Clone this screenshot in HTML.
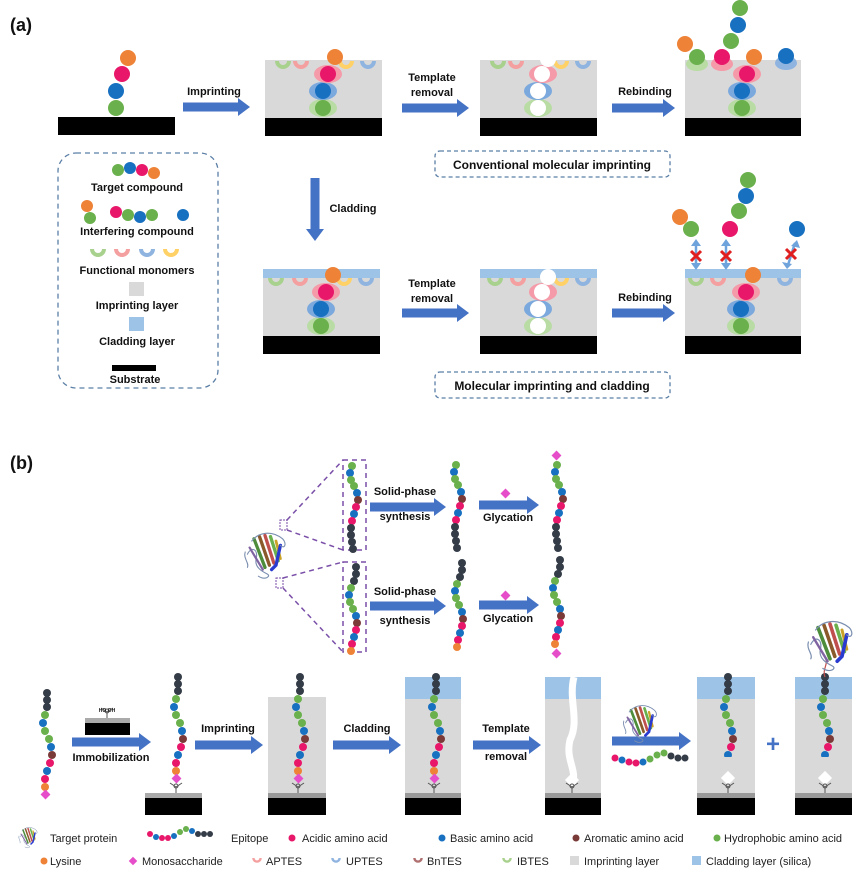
<!DOCTYPE html>
<html><head><meta charset="utf-8"><style>
body{margin:0;background:#fff}
svg{display:block}
text{font-family:"Liberation Sans",sans-serif;font-weight:bold;fill:#111}
.ar{stroke:#4472c4;stroke-width:9;fill:none}
.g{fill:#6ab04c}.b{fill:#1870c0}.p{fill:#e8176a}.o{fill:#ee8236}.d{fill:#343c48}.br{fill:#7a3b38}.m{fill:#e64dc8}
.lg{font-size:11px;font-weight:normal;fill:#222}
</style></head><body>
<svg width="865" height="878" viewBox="0 0 865 878" xmlns="http://www.w3.org/2000/svg">
<defs>
<g id="hd"><path d="M0,-9 L12,0 L0,9z" fill="#4472c4"/></g>
<g id="cg"><path d="M-8,0 A8,8 0 0 0 8,0 L4,0 A4,4 0 0 1 -4,0z" fill="#a9d18e"/></g>
<g id="cp"><path d="M-8,0 A8,8 0 0 0 8,0 L4,0 A4,4 0 0 1 -4,0z" fill="#f4a0a0"/></g>
<g id="cb"><path d="M-8,0 A8,8 0 0 0 8,0 L4,0 A4,4 0 0 1 -4,0z" fill="#8fb4e0"/></g>
<g id="cy"><path d="M-8,0 A8,8 0 0 0 8,0 L4,0 A4,4 0 0 1 -4,0z" fill="#ffd166"/></g>
<g id="stack">
<ellipse cx="0" cy="34" rx="14" ry="9" fill="#b8dca4"/><ellipse cx="0" cy="17" rx="14" ry="9" fill="#7ca9dd"/><ellipse cx="5" cy="0" rx="14" ry="9" fill="#f59aa8"/>
<circle cx="0" cy="34" r="8" class="g"/><circle cx="0" cy="17" r="8" class="b"/><circle cx="5" cy="0" r="8" class="p"/><circle cx="12" cy="-17" r="8" class="o"/>
</g>
<g id="stackw">
<ellipse cx="0" cy="34" rx="14" ry="9" fill="#b8dca4"/><ellipse cx="0" cy="17" rx="14" ry="9" fill="#7ca9dd"/><ellipse cx="5" cy="0" rx="14" ry="9" fill="#f59aa8"/>
<circle cx="0" cy="34" r="8" fill="#fff"/><circle cx="0" cy="17" r="8" fill="#fff"/><circle cx="4" cy="0" r="8" fill="#fff"/><circle cx="10" cy="-15" r="8" fill="#fff"/>
</g>
<g id="ch">
<circle cx="0" cy="0" r="4" class="d"/><circle cx="0" cy="7" r="4" class="d"/><circle cx="0" cy="14" r="4" class="d"/>
<circle cx="-2" cy="22" r="4" class="g"/><circle cx="-4" cy="30" r="4" class="b"/><circle cx="-2" cy="38" r="4" class="g"/><circle cx="2" cy="46" r="4" class="g"/>
<circle cx="4" cy="54" r="4" class="b"/><circle cx="5" cy="62" r="4" class="br"/><circle cx="3" cy="70" r="4" class="p"/><circle cx="0" cy="78" r="4" class="b"/>
<circle cx="-2" cy="86" r="4" class="p"/><circle cx="-2" cy="94" r="4" class="o"/>
</g>
<g id="c1">
<circle cx="0" cy="0" r="4" class="g"/><circle cx="-2" cy="7" r="4" class="b"/><circle cx="-1" cy="14" r="4" class="g"/><circle cx="2" cy="20" r="4" class="g"/>
<circle cx="5" cy="27" r="4" class="b"/><circle cx="6" cy="34" r="4" class="br"/><circle cx="4" cy="41" r="4" class="p"/><circle cx="2" cy="48" r="4" class="b"/>
<circle cx="0" cy="55" r="4" class="p"/><circle cx="-1" cy="62" r="4" class="d"/><circle cx="-1" cy="69" r="4" class="d"/><circle cx="0" cy="76" r="4" class="d"/><circle cx="1" cy="83" r="4" class="d"/>
</g>
<g id="c2">
<circle cx="0" cy="0" r="4" class="d"/><circle cx="0" cy="7" r="4" class="d"/><circle cx="-2" cy="14" r="4" class="d"/><circle cx="-5" cy="21" r="4" class="g"/>
<circle cx="-7" cy="28" r="4" class="b"/><circle cx="-6" cy="35" r="4" class="g"/><circle cx="-3" cy="42" r="4" class="g"/><circle cx="0" cy="49" r="4" class="b"/>
<circle cx="1" cy="56" r="4" class="br"/><circle cx="0" cy="63" r="4" class="p"/><circle cx="-2" cy="70" r="4" class="b"/><circle cx="-4" cy="77" r="4" class="p"/><circle cx="-5" cy="84" r="4" class="o"/>
</g>
<!-- compact protein, approx 40x40 box -->
<g id="prot" fill="none" stroke-linecap="round">
<path d="M4,22 C8,14 14,18 12,26 C10,34 18,38 22,40 C26,42 20,46 14,42" stroke="#7b8fb0" stroke-width="1"/>
<path d="M2,20 C0,26 6,30 4,34" stroke="#7b8fb0" stroke-width="1"/>
<path d="M10,8 L20,34" stroke="#4d8c3a" stroke-width="3"/>
<path d="M15,6 L24,32" stroke="#8a5a2b" stroke-width="3"/>
<path d="M20,5 L28,30" stroke="#c0504d" stroke-width="3"/>
<path d="M25,6 L32,28" stroke="#6ab04c" stroke-width="3"/>
<path d="M30,10 L34,26" stroke="#c9a227" stroke-width="2.5"/>
<path d="M34,14 L30,32 L26,36" stroke="#2a3bd0" stroke-width="3"/>
<path d="M8,10 C14,2 26,0 36,8 C40,12 38,18 34,14" stroke="#7b8fb0" stroke-width="1"/>
<path d="M6,16 L18,36" stroke="#8064a2" stroke-width="2"/>
</g>
<g id="bor" stroke="#555" stroke-width="1" fill="none"><path d="M0,0 L0,-6 M0,-6 L-6,-10 M0,-6 L6,-10"/><circle cx="0" cy="-7" r="2"/></g>
</defs>

<!-- ============ (a) ============ -->
<text x="10" y="31" font-size="18">(a)</text>
<rect x="58" y="117" width="117" height="18" fill="#000"/>
<circle cx="116" cy="108" r="8" class="g"/><circle cx="116" cy="91" r="8" class="b"/><circle cx="122" cy="74" r="8" class="p"/><circle cx="128" cy="58" r="8" class="o"/>
<line x1="183" y1="107" x2="239" y2="107" class="ar"/><use href="#hd" x="238" y="107"/>
<text x="214" y="95" font-size="11" text-anchor="middle">Imprinting</text>

<rect x="265" y="60" width="117" height="58" fill="#d9d9d9"/><rect x="265" y="118" width="117" height="18" fill="#000"/>
<use href="#cg" x="283" y="61"/><use href="#cp" x="301" y="61"/><use href="#cb" x="368" y="61"/><use href="#cy" x="346" y="61"/>
<use href="#stack" x="323" y="74"/>
<line x1="402" y1="108" x2="458" y2="108" class="ar"/><use href="#hd" x="457" y="108"/>
<text x="432" y="81" font-size="11" text-anchor="middle">Template</text><text x="432" y="96" font-size="11" text-anchor="middle">removal</text>

<rect x="480" y="60" width="117" height="58" fill="#d9d9d9"/><rect x="480" y="118" width="117" height="18" fill="#000"/>
<use href="#cg" x="498" y="61"/><use href="#cp" x="516" y="61"/><use href="#cb" x="583" y="61"/><use href="#cy" x="561" y="61"/>
<use href="#stackw" x="538" y="74"/>
<line x1="612" y1="108" x2="664" y2="108" class="ar"/><use href="#hd" x="663" y="108"/>
<text x="645" y="95" font-size="11" text-anchor="middle">Rebinding</text>

<rect x="685" y="60" width="116" height="58" fill="#d9d9d9"/><rect x="685" y="118" width="116" height="18" fill="#000"/>
<ellipse cx="697" cy="64" rx="11" ry="7" fill="#b8dca4"/><ellipse cx="722" cy="64" rx="11" ry="7" fill="#f59aa8"/><ellipse cx="786" cy="63" rx="11" ry="7" fill="#8fb4e0"/>
<use href="#stack" x="742" y="74"/>
<circle cx="685" cy="44" r="8" class="o"/><circle cx="697" cy="57" r="8" class="g"/><circle cx="722" cy="57" r="8" class="p"/><circle cx="731" cy="41" r="8" class="g"/><circle cx="738" cy="25" r="8" class="b"/><circle cx="740" cy="8" r="8" class="g"/><circle cx="786" cy="56" r="8" class="b"/>
<rect x="435" y="151" width="235" height="26" rx="5" fill="none" stroke="#5b7fa6" stroke-width="1.3" stroke-dasharray="4,3"/>
<text x="552" y="169" font-size="12" text-anchor="middle">Conventional molecular imprinting</text>

<!-- legend -->
<rect x="58" y="153" width="160" height="235" rx="18" fill="none" stroke="#5b7fa6" stroke-width="1.3" stroke-dasharray="5,4"/>
<circle cx="118" cy="170" r="6" class="g"/><circle cx="130" cy="168" r="6" class="b"/><circle cx="142" cy="170" r="6" class="p"/><circle cx="154" cy="173" r="6" class="o"/>
<text x="137" y="191" font-size="11" text-anchor="middle">Target compound</text>
<circle cx="87" cy="206" r="6" class="o"/><circle cx="90" cy="218" r="6" class="g"/><circle cx="116" cy="212" r="6" class="p"/><circle cx="128" cy="215" r="6" class="g"/><circle cx="140" cy="217" r="6" class="b"/><circle cx="152" cy="215" r="6" class="g"/><circle cx="183" cy="215" r="6" class="b"/>
<text x="137" y="235" font-size="11" text-anchor="middle">Interfering compound</text>
<use href="#cg" x="98" y="249"/><use href="#cp" x="122" y="249"/><use href="#cb" x="147" y="249"/><use href="#cy" x="171" y="249"/>
<text x="137" y="274" font-size="11" text-anchor="middle">Functional monomers</text>
<rect x="129" y="282" width="15" height="14" fill="#d9d9d9"/>
<text x="137" y="309" font-size="11" text-anchor="middle">Imprinting layer</text>
<rect x="129" y="317" width="15" height="14" fill="#9dc3e6"/>
<text x="137" y="345" font-size="11" text-anchor="middle">Cladding layer</text>
<rect x="112" y="365" width="44" height="6" fill="#000"/>
<text x="135" y="383" font-size="11" text-anchor="middle">Substrate</text>

<line x1="315" y1="178" x2="315" y2="230" class="ar"/><use href="#hd" x="315" y="229" transform="rotate(90 315 229)"/>
<text x="353" y="212" font-size="11" text-anchor="middle">Cladding</text>

<!-- row 2 -->
<rect x="263" y="277" width="117" height="59" fill="#d9d9d9"/><rect x="263" y="269" width="117" height="9" fill="#9dc3e6"/><rect x="263" y="336" width="117" height="18" fill="#000"/>
<use href="#cg" x="276" y="278"/><use href="#cp" x="300" y="278"/><use href="#cb" x="366" y="278"/><use href="#cy" x="344" y="278"/>
<use href="#stack" x="321" y="292"/>
<line x1="402" y1="313" x2="458" y2="313" class="ar"/><use href="#hd" x="457" y="313"/>
<text x="432" y="287" font-size="11" text-anchor="middle">Template</text><text x="432" y="302" font-size="11" text-anchor="middle">removal</text>

<rect x="480" y="277" width="117" height="59" fill="#d9d9d9"/><rect x="480" y="269" width="117" height="9" fill="#9dc3e6"/><rect x="480" y="336" width="117" height="18" fill="#000"/>
<use href="#cg" x="495" y="278"/><use href="#cp" x="518" y="278"/><use href="#cb" x="583" y="278"/><use href="#cy" x="561" y="278"/>
<use href="#stackw" x="538" y="292"/>
<line x1="612" y1="313" x2="664" y2="313" class="ar"/><use href="#hd" x="663" y="313"/>
<text x="645" y="301" font-size="11" text-anchor="middle">Rebinding</text>

<rect x="685" y="277" width="116" height="59" fill="#d9d9d9"/><rect x="685" y="269" width="116" height="9" fill="#9dc3e6"/><rect x="685" y="336" width="116" height="18" fill="#000"/>
<use href="#cg" x="696" y="278"/><use href="#cp" x="718" y="278"/><use href="#cb" x="785" y="278"/>
<use href="#stack" x="741" y="292"/>
<circle cx="680" cy="217" r="8" class="o"/><circle cx="691" cy="229" r="8" class="g"/><circle cx="730" cy="229" r="8" class="p"/><circle cx="739" cy="211" r="8" class="g"/><circle cx="746" cy="196" r="8" class="b"/><circle cx="748" cy="180" r="8" class="g"/><circle cx="797" cy="229" r="8" class="b"/>
<g stroke="#6fa3dc" stroke-width="2.5" fill="#6fa3dc">
<line x1="696" y1="244" x2="696" y2="265"/><line x1="726" y1="244" x2="726" y2="265"/><line x1="795" y1="243" x2="788" y2="265"/>
</g>
<g fill="#6fa3dc"><path d="M691,246 L696,239 L701,246z M691,263 L696,270 L701,263z M721,246 L726,239 L731,246z M721,263 L726,270 L731,263z M791,246 L797,240 L800,248z M782,262 L787,269 L792,264z"/></g>
<g stroke="#e02020" stroke-width="3"><path d="M691,251 L701,261 M701,251 L691,261 M721,251 L731,261 M731,251 L721,261 M786,249 L796,259 M796,249 L786,259"/></g>
<rect x="435" y="372" width="235" height="26" rx="5" fill="none" stroke="#5b7fa6" stroke-width="1.3" stroke-dasharray="4,3"/>
<text x="552" y="390" font-size="12" text-anchor="middle">Molecular imprinting and cladding</text>

<!-- ============ (b) ============ -->
<text x="10" y="469" font-size="18">(b)</text>
<use href="#prot" transform="translate(243 530) scale(1.1)"/>
<rect x="280" y="520" width="7" height="10" fill="none" stroke="#7a4fa8" stroke-width="1" stroke-dasharray="2,1"/>
<rect x="276" y="578" width="7" height="10" fill="none" stroke="#7a4fa8" stroke-width="1" stroke-dasharray="2,1"/>
<g stroke="#7a4fa8" stroke-width="1.5" stroke-dasharray="5,4" fill="none">
<rect x="343" y="460" width="23" height="90"/><rect x="343" y="562" width="23" height="90"/>
<line x1="287" y1="520" x2="343" y2="460"/><line x1="287" y1="530" x2="343" y2="550"/>
<line x1="283" y1="578" x2="343" y2="562"/><line x1="283" y1="588" x2="343" y2="652"/>
</g>
<use href="#c1" x="352" y="466"/>
<use href="#c2" x="356" y="567"/>
<line x1="370" y1="507" x2="435" y2="507" class="ar"/><use href="#hd" x="434" y="507"/>
<text x="405" y="495" font-size="11" text-anchor="middle">Solid-phase</text><text x="405" y="520" font-size="11" text-anchor="middle">synthesis</text>
<use href="#c1" x="456" y="465"/>
<line x1="479" y1="505" x2="528" y2="505" class="ar"/><use href="#hd" x="527" y="505"/>
<rect x="502" y="490" width="7" height="7" class="m" transform="rotate(45 505.5 493.5)"/>
<text x="508" y="521" font-size="11" text-anchor="middle">Glycation</text>
<rect x="553" y="452" width="7" height="7" class="m" transform="rotate(45 556.5 455.5)"/>
<use href="#c1" x="557" y="465"/>
<line x1="370" y1="606" x2="435" y2="606" class="ar"/><use href="#hd" x="434" y="606"/>
<text x="405" y="595" font-size="11" text-anchor="middle">Solid-phase</text><text x="405" y="624" font-size="11" text-anchor="middle">synthesis</text>
<use href="#c2" x="462" y="563"/>
<line x1="479" y1="605" x2="528" y2="605" class="ar"/><use href="#hd" x="527" y="605"/>
<rect x="502" y="592" width="7" height="7" class="m" transform="rotate(45 505.5 595.5)"/>
<text x="508" y="622" font-size="11" text-anchor="middle">Glycation</text>
<use href="#c2" x="560" y="560"/>
<rect x="553" y="650" width="7" height="7" class="m" transform="rotate(45 556.5 653.5)"/>

<!-- bottom row -->
<use href="#ch" x="47" y="693"/><rect x="42" y="791" width="7" height="7" class="m" transform="rotate(45 45.5 794.5)"/>
<rect x="85" y="718" width="45" height="5" fill="#aaa"/><rect x="85" y="723" width="45" height="12" fill="#000"/>
<use href="#bor" x="107" y="718"/><text x="107" y="712" font-size="5" text-anchor="middle" font-weight="normal">HO  OH</text>
<line x1="72" y1="742" x2="140" y2="742" class="ar"/><use href="#hd" x="139" y="742"/>
<text x="111" y="761" font-size="11" text-anchor="middle">Immobilization</text>

<use href="#ch" x="178" y="677"/><rect x="173" y="775" width="7" height="7" class="m" transform="rotate(45 176.5 778.5)"/>
<use href="#bor" x="176" y="793"/>
<rect x="145" y="793" width="57" height="5" fill="#aaa"/><rect x="145" y="798" width="57" height="17" fill="#000"/>
<line x1="195" y1="745" x2="252" y2="745" class="ar"/><use href="#hd" x="251" y="745"/>
<text x="228" y="732" font-size="11" text-anchor="middle">Imprinting</text>

<rect x="268" y="697" width="58" height="96" fill="#d9d9d9"/><rect x="268" y="793" width="58" height="5" fill="#999"/><rect x="268" y="798" width="58" height="17" fill="#000"/>
<use href="#ch" x="300" y="677"/><rect x="295" y="775" width="7" height="7" class="m" transform="rotate(45 298.5 778.5)"/><use href="#bor" x="298" y="793"/>
<line x1="333" y1="745" x2="390" y2="745" class="ar"/><use href="#hd" x="389" y="745"/>
<text x="367" y="732" font-size="11" text-anchor="middle">Cladding</text>

<rect x="405" y="697" width="56" height="96" fill="#d9d9d9"/><rect x="405" y="677" width="56" height="22" fill="#9dc3e6"/><rect x="405" y="793" width="56" height="5" fill="#999"/><rect x="405" y="798" width="56" height="17" fill="#000"/>
<use href="#ch" x="436" y="677"/><rect x="431" y="775" width="7" height="7" class="m" transform="rotate(45 434.5 778.5)"/><use href="#bor" x="434" y="793"/>
<line x1="473" y1="745" x2="530" y2="745" class="ar"/><use href="#hd" x="529" y="745"/>
<text x="506" y="732" font-size="11" text-anchor="middle">Template</text><text x="506" y="760" font-size="11" text-anchor="middle">removal</text>

<rect x="545" y="697" width="56" height="96" fill="#d9d9d9"/><rect x="545" y="677" width="56" height="22" fill="#9dc3e6"/><rect x="545" y="793" width="56" height="5" fill="#999"/><rect x="545" y="798" width="56" height="17" fill="#000"/>
<path d="M574,677 C568,700 580,720 570,740 C565,760 578,770 572,785" stroke="#fff" stroke-width="7" fill="none"/>
<rect x="567" y="775" width="10" height="10" fill="#fff" transform="rotate(45 572 780)"/>
<use href="#bor" x="572" y="793"/>
<line x1="612" y1="741" x2="680" y2="741" class="ar"/><use href="#hd" x="679" y="741"/>
<use href="#prot" transform="translate(622 703) scale(0.9)"/>
<g><circle cx="615" cy="758" r="3.5" class="p"/><circle cx="622" cy="760" r="3.5" class="b"/><circle cx="629" cy="762" r="3.5" class="p"/><circle cx="636" cy="763" r="3.5" class="p"/><circle cx="643" cy="762" r="3.5" class="b"/><circle cx="650" cy="759" r="3.5" class="g"/><circle cx="657" cy="755" r="3.5" class="g"/><circle cx="664" cy="753" r="3.5" class="g"/><circle cx="671" cy="756" r="3.5" class="d"/><circle cx="678" cy="758" r="3.5" class="d"/><circle cx="685" cy="758" r="3.5" class="d"/></g>

<rect x="697" y="697" width="58" height="96" fill="#d9d9d9"/><rect x="697" y="677" width="58" height="22" fill="#9dc3e6"/><rect x="697" y="793" width="58" height="5" fill="#999"/><rect x="697" y="798" width="58" height="17" fill="#000"/>
<use href="#ch" x="728" y="677"/><rect x="721" y="757" width="14" height="32" fill="#d9d9d9"/><rect x="723" y="773" width="10" height="10" fill="#fff" transform="rotate(45 728 778)"/><use href="#bor" x="728" y="793"/>
<text x="773" y="752" font-size="24" style="fill:#4472c4" text-anchor="middle">+</text>

<rect x="795" y="697" width="57" height="96" fill="#d9d9d9"/><rect x="795" y="677" width="57" height="22" fill="#9dc3e6"/><rect x="795" y="793" width="57" height="5" fill="#999"/><rect x="795" y="798" width="57" height="17" fill="#000"/>
<use href="#ch" x="825" y="677"/><rect x="818" y="757" width="14" height="32" fill="#d9d9d9"/><rect x="820" y="773" width="10" height="10" fill="#fff" transform="rotate(45 825 778)"/><use href="#bor" x="825" y="793"/>
<path d="M825,677 C822,670 828,664 826,660" stroke="#c0504d" stroke-width="1.2" fill="none"/>
<use href="#prot" transform="translate(806 618) scale(1.2)"/>

<!-- legend bottom -->
<use href="#prot" transform="translate(18 826) scale(0.5)"/>
<text x="50" y="842" class="lg">Target protein</text>
<g><circle cx="150" cy="834" r="3" class="p"/><circle cx="156" cy="837" r="3" class="b"/><circle cx="162" cy="838" r="3" class="p"/><circle cx="168" cy="838" r="3" class="p"/><circle cx="174" cy="836" r="3" class="b"/><circle cx="180" cy="832" r="3" class="g"/><circle cx="186" cy="829" r="3" class="g"/><circle cx="192" cy="831" r="3" class="b"/><circle cx="198" cy="834" r="3" class="d"/><circle cx="204" cy="834" r="3" class="d"/><circle cx="210" cy="834" r="3" class="d"/></g>
<text x="231" y="842" class="lg">Epitope</text>
<circle cx="292" cy="838" r="3.5" class="p"/><text x="302" y="842" class="lg">Acidic amino acid</text>
<circle cx="442" cy="838" r="3.5" class="b"/><text x="450" y="842" class="lg">Basic amino acid</text>
<circle cx="576" cy="838" r="3.5" class="br"/><text x="584" y="842" class="lg">Aromatic amino acid</text>
<circle cx="717" cy="838" r="3.5" class="g"/><text x="724" y="842" class="lg">Hydrophobic amino acid</text>
<circle cx="44" cy="861" r="3.5" class="o"/><text x="50" y="865" class="lg">Lysine</text>
<rect x="130" y="858" width="6" height="6" class="m" transform="rotate(45 133 861)"/><text x="142" y="865" class="lg">Monosaccharide</text>
<use href="#cp" transform="translate(257 858) scale(0.6)"/><text x="266" y="865" class="lg">APTES</text>
<use href="#cb" transform="translate(336 858) scale(0.6)"/><text x="346" y="865" class="lg">UPTES</text>
<g transform="translate(418 858) scale(0.6)"><path d="M-8,0 A8,8 0 0 0 8,0 L4,0 A4,4 0 0 1 -4,0z" fill="#b07070"/></g><text x="427" y="865" class="lg">BnTES</text>
<use href="#cg" transform="translate(507 858) scale(0.6)"/><text x="517" y="865" class="lg">IBTES</text>
<rect x="570" y="856" width="9" height="9" fill="#d9d9d9"/><text x="584" y="865" class="lg">Imprinting layer</text>
<rect x="692" y="856" width="9" height="9" fill="#9dc3e6"/><text x="706" y="865" class="lg">Cladding layer (silica)</text>
</svg>
</body></html>
